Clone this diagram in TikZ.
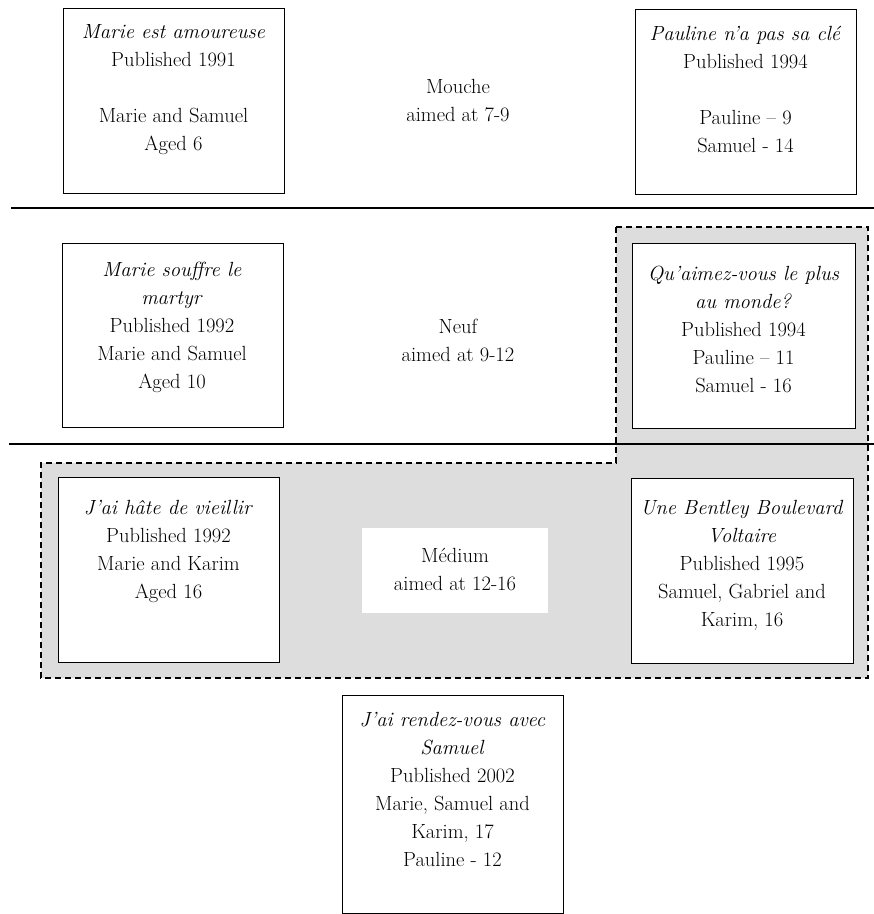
\documentclass[tikz,border=0pt]{standalone}
\usepackage{fontspec}
\definecolor{shade}{RGB}{221,221,221}
\begin{document}
\begin{tikzpicture}[x=1pt,y=-1pt,
  book/.style={draw, line width=1.2pt, fill=white, minimum width=221, minimum height=185, anchor=north west, inner sep=0},
  txt/.style={align=center, font=\fontsize{20.5}{28}\selectfont, inner sep=0},
  rule/.style={line width=1.3pt},
  zone/.style={fill=shade, draw=black, line width=1.4pt, dash pattern=on 6pt off 4pt}]
\useasboundingbox (0,0) rectangle (874,914);
% shaded dashed zone
\draw[zone] (616,227) -- (868,227) -- (868,678) -- (41,678) -- (41,463) -- (616,463) -- cycle;
% horizontal rules
\coordinate (r1a) at (11,208); \coordinate (r1b) at (874,208);
\coordinate (r2a) at (9,444);  \coordinate (r2b) at (874,444);
\draw[rule] (r1a) -- (r1b);
\draw[rule] (r2a) -- (r2b);
% boxes
\node[book] (tl) at (63,8) {};
\node[book] (tr) at (635,9) {};
\node[book, minimum height=184] (ml) at (62,243) {};
\node[book, minimum width=223] (mr) at (632,243) {};
\node[book] (bl) at (58,477) {};
\node[book, minimum width=222] (br) at (631,478) {};
\node[book, minimum height=218] (bt) at (342,695) {};
\node[fill=white, minimum width=186, minimum height=85, inner sep=0] (med) at (455,570.5) {};
% texts
\node[txt] (tlt) at (173.5,90) {\textit{Marie est amoureuse}\\Published 1991\\[28pt]Marie and Samuel\\Aged 6};
\node[txt] (trt) at (745.5,90) {\textit{Pauline n'a pas sa clé}\\Published 1994\\[28pt]Pauline -- 9\\Samuel - 14};
\node[txt] (mou) at (458,101) {Mouche\\aimed at 7-9};
\node[txt] (mlt) at (172,327) {\textit{Marie souffre le}\\\textit{martyr}\\Published 1992\\Marie and Samuel\\Aged 10};
\node[txt] (neu) at (458,340) {Neuf\\aimed at 9-12};
\node[txt] (mrt) at (743.5,329) {\textit{Qu'aimez-vous le plus}\\\textit{au monde?}\\Published 1994\\Pauline -- 11\\Samuel - 16};
\node[txt] (blt) at (168.5,551) {\textit{J'ai hâte de vieillir}\\Published 1992\\Marie and Karim\\Aged 16};
\node[txt] (mdt) at (455,570) {Médium\\aimed at 12-16};
\node[txt] (brt) at (742,565) {\textit{Une Bentley Boulevard}\\\textit{Voltaire}\\Published 1995\\Samuel, Gabriel and\\Karim, 16};
\node[txt] (btt) at (452.5,789) {\textit{J'ai rendez-vous avec}\\\textit{Samuel}\\Published 2002\\Marie, Samuel and\\Karim, 17\\Pauline - 12};
\end{tikzpicture}
\end{document}
